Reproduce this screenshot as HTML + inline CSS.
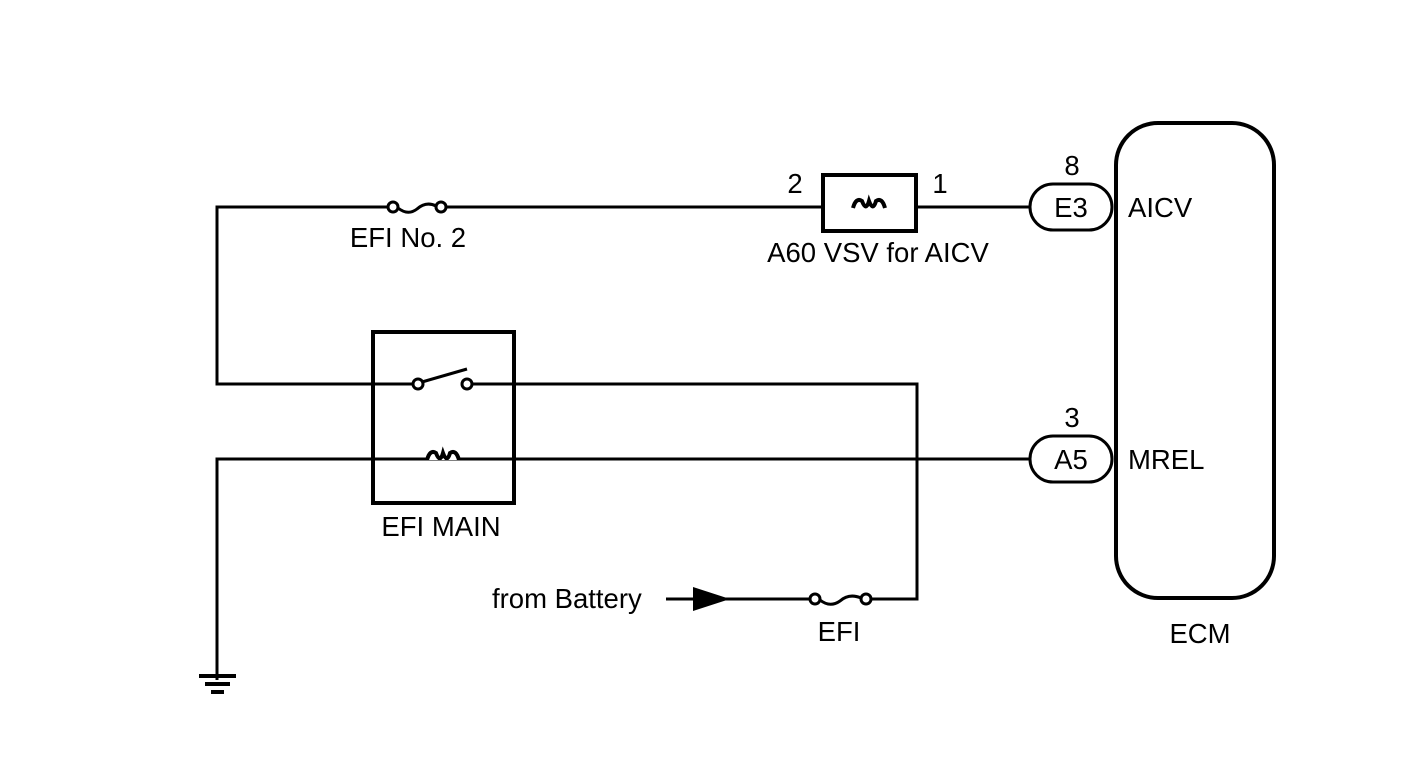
<!DOCTYPE html>
<html><head><meta charset="utf-8"><style>html,body{margin:0;padding:0;background:#fff}</style></head><body>
<svg width="1424" height="763" viewBox="0 0 1424 763" xmlns="http://www.w3.org/2000/svg" font-family="Liberation Sans, sans-serif" font-size="27.5" fill="#000">
<g stroke="#000" stroke-width="3" fill="none">
<path d="M1030 207 H916 M823 207 H446 M388 207 H217 V384 H413"/>
<path d="M472 384 H917 V599 H871 M810 599 H666"/>
<path d="M217 680 V459 H1030"/>
<rect x="823" y="175" width="93" height="56" stroke-width="4"/>
<rect x="373" y="332" width="141" height="171" stroke-width="4"/>
<rect x="1116" y="123" width="158" height="475" rx="42" stroke-width="4"/>
<rect x="1030" y="184" width="82" height="46" rx="23"/>
<rect x="1030" y="436" width="82" height="46" rx="23"/>
<circle cx="393" cy="207" r="5" fill="#fff"/><circle cx="441" cy="207" r="5" fill="#fff"/>
<path d="M398 208 Q408 216 417 209 Q426 201 436 206"/>
<circle cx="815" cy="599" r="5" fill="#fff"/><circle cx="866" cy="599" r="5" fill="#fff"/>
<path d="M820 600 Q830 608 840 601 Q849 593 861 598"/>
<circle cx="418" cy="384" r="5" fill="#fff"/><circle cx="467" cy="384" r="5" fill="#fff"/>
<path d="M422 382 L467 369"/>
<path d="M853 208 Q856 197 862 201 Q866 212 869 201 Q873 212 876 201 Q882 197 885 208" fill="#fff" stroke-width="4"/>
<path d="M427 460 Q430 449 436 453 Q440 464 443 453 Q447 464 450 453 Q456 449 459 460" fill="#fff" stroke-width="4"/>
</g>
<g stroke="#000" stroke-width="4"><path d="M199 676 H236 M205 684 H230 M211 692 H224"/></g>
<polygon points="693,587 730,599 693,611"/>
<text x="795" y="193" text-anchor="middle">2</text>
<text x="940" y="193" text-anchor="middle">1</text>
<text x="878" y="262" text-anchor="middle">A60 VSV for AICV</text>
<text x="408" y="247" text-anchor="middle">EFI No. 2</text>
<text x="441" y="536" text-anchor="middle">EFI MAIN</text>
<text x="492" y="608">from Battery</text>
<text x="839" y="641" text-anchor="middle">EFI</text>
<text x="1072" y="175" text-anchor="middle">8</text>
<text x="1072" y="427" text-anchor="middle">3</text>
<text x="1071" y="217" text-anchor="middle">E3</text>
<text x="1071" y="469" text-anchor="middle">A5</text>
<text x="1128" y="217">AICV</text>
<text x="1128" y="469">MREL</text>
<text x="1200" y="643" text-anchor="middle">ECM</text>
</svg>
</body></html>
